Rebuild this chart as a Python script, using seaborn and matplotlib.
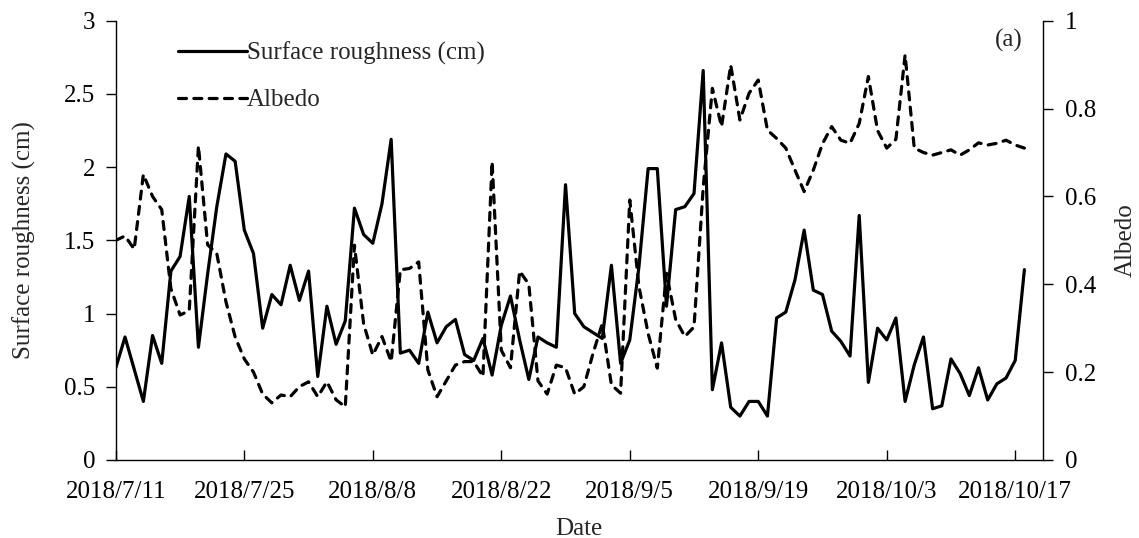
import numpy as np
import pandas as pd
import matplotlib
matplotlib.use("Agg")
import matplotlib.pyplot as plt
import matplotlib.dates as mdates
from matplotlib.ticker import FuncFormatter, MultipleLocator
from matplotlib.lines import Line2D
import seaborn as sns

# ---------------- data ----------------
start_date = "2018-07-11"
n_days = 100
roughness = [0.63, 0.84, 0.62, 0.40, 0.85, 0.66, 1.29, 1.39, 1.80, 0.77,
             1.27, 1.73, 2.09, 2.04, 1.57, 1.41, 0.90, 1.13, 1.06, 1.33,
             1.09, 1.29, 0.57, 1.05, 0.79, 0.95, 1.72, 1.54, 1.48, 1.75,
             2.19, 0.73, 0.75, 0.66, 1.01, 0.80, 0.91, 0.96, 0.72, 0.68,
             0.83, 0.58, 0.92, 1.12, 0.82, 0.55, 0.84, 0.80, 0.77, 1.88,
             1.00, 0.91, 0.87, 0.83, 1.33, 0.66, 0.82, 1.32, 1.99, 1.99,
             1.05, 1.71, 1.73, 1.82, 2.66, 0.48, 0.80, 0.36, 0.30, 0.40,
             0.40, 0.30, 0.97, 1.01, 1.23, 1.57, 1.16, 1.13, 0.88, 0.81,
             0.71, 1.67, 0.53, 0.90, 0.82, 0.97, 0.40, 0.65, 0.84, 0.35,
             0.37, 0.69, 0.59, 0.44, 0.63, 0.41, 0.52, 0.56, 0.68, 1.30]
albedo = [0.50, 0.51, 0.48, 0.65, 0.60, 0.57, 0.39, 0.33, 0.34, 0.715,
          0.49, 0.47, 0.36, 0.28, 0.23, 0.20, 0.15, 0.13, 0.148, 0.144,
          0.167, 0.178, 0.144, 0.178, 0.137, 0.121, 0.489, 0.31, 0.239, 0.281,
          0.224, 0.433, 0.436, 0.451, 0.205, 0.144, 0.18, 0.216, 0.224, 0.224,
          0.19, 0.679, 0.25, 0.21, 0.43, 0.40, 0.18, 0.15, 0.216, 0.21,
          0.15, 0.167, 0.243, 0.31, 0.171, 0.152, 0.592, 0.395, 0.288, 0.209,
          0.425, 0.32, 0.281, 0.303, 0.62, 0.846, 0.759, 0.899, 0.774, 0.835,
          0.865, 0.751, 0.732, 0.71, 0.66, 0.611, 0.66, 0.72, 0.759, 0.728,
          0.721, 0.766, 0.873, 0.75, 0.71, 0.73, 0.922, 0.71, 0.70, 0.694,
          0.70, 0.706, 0.694, 0.706, 0.722, 0.717, 0.721, 0.728, 0.717, 0.71]
tick_dates = ["2018-07-11", "2018-07-25", "2018-08-08", "2018-08-22",
              "2018-09-05", "2018-09-19", "2018-10-03", "2018-10-17"]
x_min, x_max = "2018-07-11", "2018-10-20"
series_labels = ["Surface roughness (cm)", "Albedo"]

dates = pd.date_range(start_date, periods=n_days, freq="D")
df = pd.DataFrame({"Date": dates, "roughness": roughness, "albedo": albedo})

# ---------------- style ----------------
sns.set_style("ticks")
plt.rcParams["font.family"] = ["Liberation Serif", "DejaVu Serif"]
FS = 18
plt.rcParams["font.size"] = FS

fig = plt.figure(figsize=(11.39, 5.38), dpi=100)
ax = fig.add_axes([0.1017, 0.145, 0.8138, 0.8165])
ax2 = ax.twinx()

lw = 2.3
dash = (0, (2.5, 2.3))
sns.lineplot(data=df, x="Date", y="roughness", ax=ax, color="black", lw=lw,
             solid_capstyle="round", solid_joinstyle="round")
sns.lineplot(data=df, x="Date", y="albedo", ax=ax2, color="black", lw=lw,
             linestyle=dash, dash_capstyle="round", dash_joinstyle="round")

ax.set_xlim(pd.Timestamp(x_min), pd.Timestamp(x_max))
ax.set_ylim(0, 3)
ax2.set_ylim(0, 1)

ax.set_xticks(pd.to_datetime(tick_dates))
ax.xaxis.set_major_formatter(FuncFormatter(
    lambda v, p: (lambda d: f"{d.year}/{d.month}/{d.day}")(mdates.num2date(v))))
ax.yaxis.set_major_locator(MultipleLocator(0.5))
ax2.yaxis.set_major_locator(MultipleLocator(0.2))
ax.yaxis.set_major_formatter(FuncFormatter(lambda v, p: f"{v:g}"))
ax2.yaxis.set_major_formatter(FuncFormatter(lambda v, p: f"{round(v, 1):g}"))

for a in (ax, ax2):
    for s in a.spines.values():
        s.set_linewidth(1.0)
        s.set_color("black")
    a.spines["top"].set_visible(False)
ax.spines["right"].set_visible(False)
ax2.spines["left"].set_visible(False)
ax2.spines["bottom"].set_visible(False)

ax.tick_params(axis="x", direction="in", length=7, width=1, pad=15,
               labelsize=FS, colors="black")
ax.tick_params(axis="y", direction="out", length=7, width=1, pad=8,
               labelsize=FS, colors="black")
ax2.tick_params(axis="y", direction="out", length=7, width=1, pad=9,
                labelsize=FS, colors="black")

ax.set_xlabel("Date", fontsize=FS, labelpad=11)
ax.set_ylabel("Surface roughness (cm)", fontsize=FS, labelpad=20)
ax2.set_ylabel("Albedo", fontsize=FS, labelpad=13)

handles = [Line2D([], [], color="black", lw=lw, solid_capstyle="round"),
           Line2D([], [], color="black", lw=lw, linestyle=dash,
                  dash_capstyle="round")]
ax.legend(handles, series_labels, loc="upper left",
          bbox_to_anchor=(0.067, 0.952), frameon=False, borderpad=0,
          borderaxespad=0, handlelength=2.75, handletextpad=0.0,
          labelspacing=0.95, fontsize=FS)

ax.text(0.978, 0.956, "(a)", transform=ax.transAxes, ha="right",
        va="center", fontsize=FS)

fig.savefig("out.png", dpi=100)
